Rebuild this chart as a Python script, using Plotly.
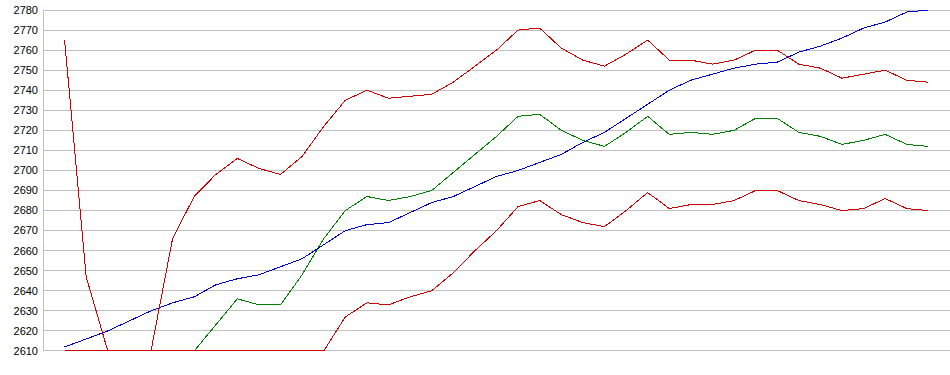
import plotly.graph_objects as go

x_idx = list(range(41))

blue = [2612, 2616, 2620, 2625, 2630, 2634, 2637, 2643, 2646, 2648, 2652, 2656, 2663,
        2670, 2673, 2674, 2679, 2684, 2687, 2692, 2697, 2700, 2704, 2708, 2714, 2719,
        2726, 2733, 2740, 2745, 2748, 2751, 2753, 2754, 2759, 2762, 2766, 2771, 2774,
        2779, 2780]

green = [2610, 2610, 2610, 2610, 2610, 2610, 2610, 2623, 2636, 2633, 2633, 2648, 2666,
         2680, 2687, 2685, 2687, 2690, 2699, 2708, 2717, 2727, 2728, 2720, 2715, 2712,
         2719, 2727, 2718, 2719, 2718, 2720, 2726, 2726, 2719, 2717, 2713, 2715, 2718,
         2713, 2712]

red_top = [2765, 2647, 2610, 2610, 2610, 2666, 2687, 2698, 2706, 2701, 2698, 2707, 2722,
           2735, 2740, 2736, 2737, 2738, 2744, 2752, 2760, 2770, 2771, 2761, 2755, 2752,
           2758, 2765, 2755, 2755, 2753, 2755, 2760, 2760, 2753, 2751, 2746, 2748, 2750,
           2745, 2744]

red_bot = [2610, 2610, 2610, 2610, 2610, 2610, 2610, 2610, 2610, 2610, 2610, 2610, 2610,
           2627, 2634, 2633, 2637, 2640, 2649, 2660, 2670, 2682, 2685, 2678, 2674, 2672,
           2680, 2689, 2681, 2683, 2683, 2685, 2690, 2690, 2685, 2683, 2680, 2681, 2686,
           2681, 2680]

y_ticks = list(range(2610, 2781, 10))
y_min, y_max = 2610, 2780

fig = go.Figure()
for vals, col in [(green, "#008000"), (blue, "#0000CC"), (red_bot, "#CC0000"), (red_top, "#CC0000")]:
    fig.add_trace(go.Scatter(x=x_idx, y=vals, mode="lines",
                             line=dict(color=col, width=1), showlegend=False,
                             hoverinfo="skip"))

# left axis line only spanning the gridded range
fig.add_shape(type="line", xref="paper", yref="y", x0=0, x1=0, y0=y_min, y1=y_max,
              line=dict(color="#C0C0C0", width=1), layer="below")

fig.update_layout(
    width=950, height=375,
    margin=dict(l=43, r=0, t=8, b=20, pad=0),
    paper_bgcolor="white", plot_bgcolor="white",
    font=dict(family="Liberation Sans, Arial, sans-serif", size=11, color="#000000"),
    xaxis=dict(range=[-1, 41], showgrid=False, zeroline=False, showticklabels=False,
               showline=False, ticks=""),
    yaxis=dict(range=[2608, 2781], tickvals=y_ticks, ticktext=[str(v) for v in y_ticks],
               showgrid=True, gridcolor="#C0C0C0", gridwidth=1, zeroline=False,
               showline=False, ticks="", ticklabelstandoff=4),
)

post = """
document.body.style.margin = '0';
var st = document.createElement('style');
st.textContent = '.js-line, .gridlayer path, .layer-below path {shape-rendering: crispEdges;}';
document.head.appendChild(st);
"""

fig.write_html("out.html", post_script=post, config={"displayModeBar": False})
